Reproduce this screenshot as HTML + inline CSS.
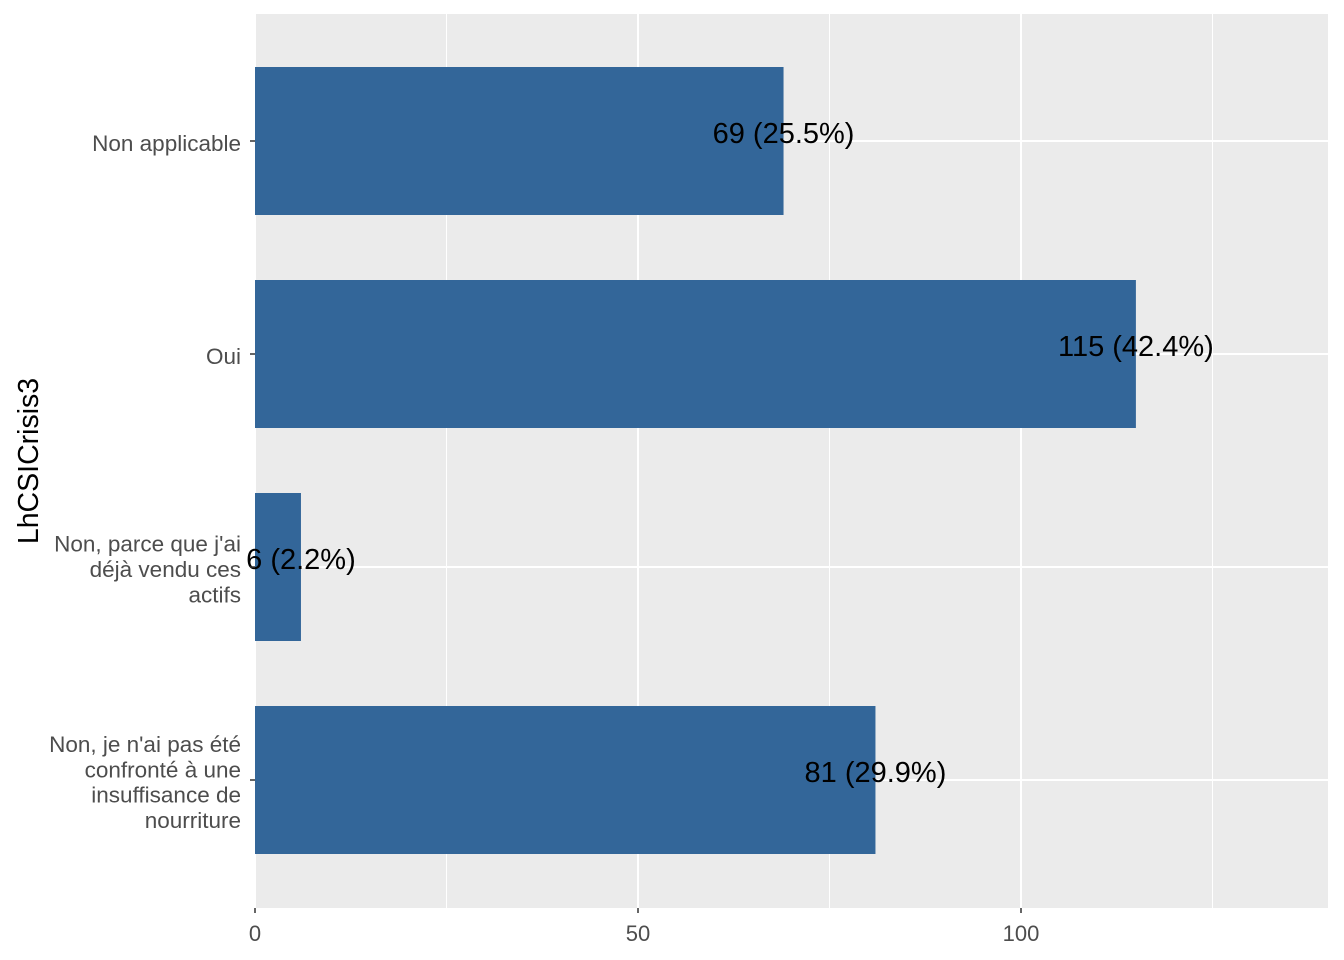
<!DOCTYPE html>
<html><head><meta charset="utf-8"><style>
body{margin:0;background:#fff;}
svg{display:block;font-family:"Liberation Sans",Arial,sans-serif;}
</style></head><body>
<svg id="chart" width="1344" height="960">
<rect x="255" y="14" width="1073" height="894" fill="#ebebeb"/>
<g id="grid"></g><g id="bars"></g><g id="labels"></g><g id="axes"></g>
<text transform="translate(38,461) rotate(-90)" text-anchor="middle" font-size="28.5" fill="#000">LhCSICrisis3</text>
</svg>
<script>
const categories=[["Non applicable"],["Oui"],["Non, parce que j'ai","déjà vendu ces","actifs"],["Non, je n'ai pas été","confronté à une","insuffisance de","nourriture"]];
const values=[69,115,6,81];
const pcts=["25.5%","42.4%","2.2%","29.9%"];
const ticks=[0,50,100];
const NS="http://www.w3.org/2000/svg";
const x0=255,pxPer=7.66,pLeft=255,pRight=1328,pTop=14,pBottom=908;
const X=v=>x0+v*pxPer;
const Y=i=>141+i*213;
const bh=148;
function mk(t,a,p){const e=document.createElementNS(NS,t);for(const k in a)e.setAttribute(k,a[k]);p.appendChild(e);return e;}
const gGrid=document.getElementById('grid'),gBars=document.getElementById('bars'),gLab=document.getElementById('labels'),gAx=document.getElementById('axes');
for(let v=25;X(v)<pRight;v+=50){const e=mk('line',{x1:X(v),x2:X(v),y1:pTop,y2:pBottom,stroke:'#fff','stroke-width':1},gGrid);

}
ticks.forEach(v=>{const e=mk('line',{x1:X(v),x2:X(v),y1:pTop,y2:pBottom,stroke:'#fff','stroke-width':2},gGrid);


const t=mk('line',{x1:X(v),x2:X(v),y1:pBottom,y2:pBottom+5,stroke:'#333','stroke-width':1.5},gAx);


const tx=mk('text',{x:X(v),y:941,'text-anchor':'middle','font-size':22,fill:'#4d4d4d'},gAx);tx.textContent=v;

});
categories.forEach((c,i)=>{const y=Y(i);
const gl=mk('line',{x1:pLeft,x2:pRight,y1:y,y2:y,stroke:'#fff','stroke-width':2},gGrid);


const r=mk('rect',{x:X(0),y:y-bh/2,width:X(values[i])-X(0),height:bh,fill:'#336699'},gBars);


const t=mk('text',{x:X(values[i]),y:y+2,'text-anchor':'middle','font-size':29,fill:'#000'},gLab);t.textContent=values[i]+' ('+pcts[i]+')';


const tk=mk('line',{x1:pLeft-5,x2:pLeft,y1:y,y2:y,stroke:'#333','stroke-width':1.5},gAx);


const n=c.length,lh=25.3,sy=y+10-(n-1)*lh/2;
c.forEach((s,j)=>{const tx=mk('text',{x:241,y:sy+j*lh,'text-anchor':'end','font-size':22.5,fill:'#4d4d4d'},gAx);tx.textContent=s;

});});
</script>
</body></html>
